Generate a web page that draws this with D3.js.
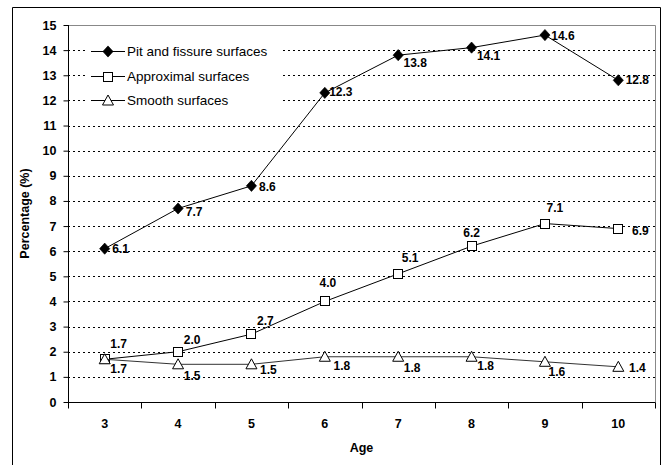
<!DOCTYPE html>
<html>
<head>
<meta charset="utf-8">
<script src="https://cdn.jsdelivr.net/npm/d3@7"></script>
<style>
  html, body { margin: 0; padding: 0; background: #fff; }
  svg { display: block; font-family: "Liberation Sans", Arial, sans-serif; }
</style>
</head>
<body>
<svg id="chart" width="666" height="465"></svg>
<script>
// Caries prevalence by surface type and age
const ages = ["3", "4", "5", "6", "7", "8", "9", "10"];
const pitFissure = [6.1, 7.7, 8.6, 12.3, 13.8, 14.1, 14.6, 12.8];
const approximal = [1.7, 2.0, 2.7, 4.0, 5.1, 6.2, 7.1, 6.9];
const smooth = [1.7, 1.5, 1.5, 1.8, 1.8, 1.8, 1.6, 1.4];
const seriesNames = ["Pit and fissure surfaces", "Approximal surfaces", "Smooth surfaces"];
const yTicks = d3.range(0, 16);

const svg = d3.select("#chart");
const margin = { left: 68, right: 11, top: 25, bottom: 63 };
const W = 666, H = 465;
const x0 = margin.left, x1 = W - margin.right, y0 = H - margin.bottom, y1 = margin.top;

const x = d3.scaleBand().domain(ages).range([x0, x1]);
const y = d3.scaleLinear().domain([0, 15]).range([y0, y1]);
const cx = a => x(a) + x.bandwidth() / 2;

// outer frame
svg.append("path")
  .attr("d", `M12.5,${H + 2} V7.5 H660.5 V${H + 2}`)
  .attr("fill", "none").attr("stroke", "#000").attr("stroke-width", 1);

// plot-area border (top/right)
svg.append("path")
  .attr("d", `M${x0},${y1 + 0.5} H${x1 + 0.5} V${y0}`)
  .attr("fill", "none").attr("stroke", "#888").attr("stroke-width", 1);

// dotted gridlines
svg.append("g").selectAll("line")
  .data(yTicks.filter(t => t > 0 && t < 15))
  .join("line")
  .attr("x1", x0).attr("x2", x1)
  .attr("y1", d => Math.round(y(d)) + 0.5).attr("y2", d => Math.round(y(d)) + 0.5)
  .attr("stroke", "#000").attr("stroke-width", 1)
  .attr("stroke-dasharray", "2,3");

// y axis
const yAxis = svg.append("g")
  .attr("transform", `translate(${x0 + 0.5},0)`)
  .call(d3.axisLeft(y).tickValues(yTicks).tickSize(5).tickPadding(7).tickFormat(d3.format("d")));
yAxis.select(".domain").attr("stroke", "#000").attr("d", `M0,${y0} V${y1}`);
yAxis.selectAll(".tick line").attr("stroke", "#000");
yAxis.selectAll(".tick text")
  .attr("font-family", "Liberation Sans, Arial, sans-serif")
  .attr("font-size", 12.5).attr("font-weight", "bold").attr("fill", "#000");

// x axis: ticks on category boundaries
const xAxis = svg.append("g").attr("transform", `translate(0,${y0 + 0.5})`);
xAxis.append("line").attr("x1", x0).attr("x2", x1 + 0.5).attr("stroke", "#000");
xAxis.selectAll("line.tk")
  .data(ages.map(a => x(a)).concat([x1]))
  .join("line").attr("class", "tk")
  .attr("x1", d => Math.round(d) + 0.5).attr("x2", d => Math.round(d) + 0.5)
  .attr("y1", 0).attr("y2", 6).attr("stroke", "#000");
xAxis.selectAll("text")
  .data(ages)
  .join("text")
  .attr("x", d => cx(d)).attr("y", 25)
  .attr("text-anchor", "middle")
  .attr("font-size", 12.5).attr("font-weight", "bold")
  .text(d => d);

// axis titles
svg.append("text")
  .attr("x", (x0 + x1) / 2).attr("y", 452)
  .attr("text-anchor", "middle")
  .attr("font-size", 12.5).attr("font-weight", "bold")
  .text("Age");
svg.append("text")
  .attr("transform", `translate(29,${(y0 + y1) / 2}) rotate(-90)`)
  .attr("text-anchor", "middle")
  .attr("font-size", 12.5).attr("font-weight", "bold")
  .text("Percentage (%)");

// marker symbols
const diamond = d3.symbol().type(d3.symbolDiamond2).size(60);

function drawMarker(g, kind, px, py) {
  if (kind === 0) {
    g.append("path").attr("d", diamond()).attr("transform", `translate(${px},${py}) scale(1.05,1.15)`)
      .attr("fill", "#000").attr("stroke", "#000").attr("stroke-width", 0.6);
  } else if (kind === 1) {
    g.append("rect").attr("x", Math.round(px) - 4.5).attr("y", Math.round(py) - 4.5)
      .attr("width", 9).attr("height", 9)
      .attr("fill", "#fff").attr("stroke", "#000").attr("stroke-width", 1);
  } else {
    g.append("path").attr("d", `M${px},${py - 5.5} L${px + 5.5},${py + 4.5} L${px - 5.5},${py + 4.5} Z`)
      .attr("fill", "#fff").attr("stroke", "#000").attr("stroke-width", 1);
  }
}

const allSeries = [pitFissure, approximal, smooth];
const line = d3.line().x((d, i) => cx(ages[i])).y(d => y(d));

// label placement per series: [dx, dy] from the marker centre to the text middle
const labelPlace = [
  i => [[16, 0], [16, 3], [16, 1], [16, -1], [17, 8], [17, 8], [18, 1], [19, 0]][i],
  i => [[14, -15], [14, -12], [14, -13], [3, -19], [12, -16], [0, -13], [10, -16], [22, 2]][i],
  i => [[14, 10], [14, 11], [17, 5], [17, 9], [14, 11], [14, 9], [12, 10], [19, 1]][i]
];

allSeries.forEach((vals, s) => {
  const g = svg.append("g");
  g.append("path").datum(vals).attr("d", line)
    .attr("fill", "none").attr("stroke", s === 2 ? "#333" : "#000").attr("stroke-width", 1);
  vals.forEach((v, i) => drawMarker(g, s, cx(ages[i]), y(v)));
  g.selectAll("text").data(vals).join("text")
    .attr("x", (v, i) => cx(ages[i]) + labelPlace[s](i)[0])
    .attr("y", (v, i) => y(v) + labelPlace[s](i)[1])
    .attr("dy", "0.35em")
    .attr("text-anchor", "middle")
    .attr("font-size", 12).attr("font-weight", "bold")
    .text(v => v.toFixed(1));
});

// legend
const legend = svg.append("g");
legend.append("rect").attr("x", 85).attr("y", 40).attr("width", 198).attr("height", 72).attr("fill", "#fff");
const rowY = [51.5, 76.5, 100.5];
seriesNames.forEach((name, s) => {
  legend.append("line").attr("x1", 91).attr("x2", 125).attr("y1", rowY[s]).attr("y2", rowY[s])
    .attr("stroke", "#000").attr("stroke-width", 1);
  drawMarker(legend, s, 108, rowY[s]);
  legend.append("text").attr("x", 127).attr("y", rowY[s]).attr("dy", "0.35em")
    .attr("font-size", 13.5).text(name);
});
</script>
</body>
</html>
